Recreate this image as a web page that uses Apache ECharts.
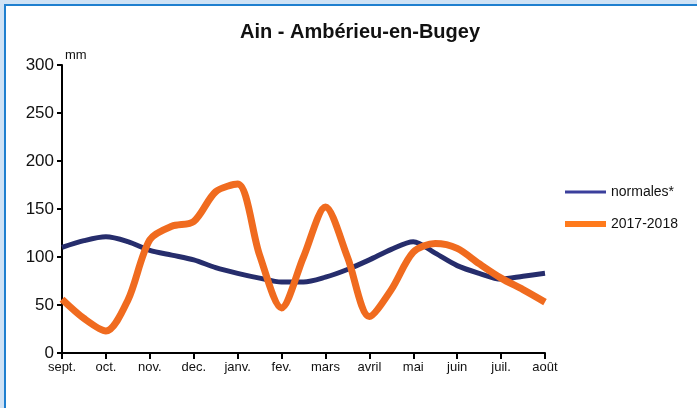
<!DOCTYPE html>
<html>
<head>
<meta charset="utf-8">
<script src="https://cdn.jsdelivr.net/npm/echarts@6/dist/echarts.min.js"></script>
<style>
  html, body { margin: 0; padding: 0; background: #cfe2f5; }
  .frame {
    position: absolute; left: 4px; top: 4px; width: 700px; height: 410px;
    background: #fff; border-left: 2px solid #1f7fcf; border-top: 2px solid #1f7fcf;
  }
  #chart { position: absolute; left: -6px; top: -6px; width: 697px; height: 408px; }
</style>
</head>
<body>
<div class="frame"><div id="chart"></div></div>
<script>
// mois (axe x) et valeurs lues tous les demi-mois
const months = ['sept.', 'oct.', 'nov.', 'dec.', 'janv.', 'fev.', 'mars', 'avril', 'mai', 'juin', 'juil.', 'août']
const yTicks = [0, 50, 100, 150, 200, 250, 300]
const normales = [110, 117, 121, 116, 107, 102, 97, 89, 83, 78, 74, 74, 79, 87, 97, 108, 116, 104, 91, 83, 77, 80, 83]
const annee = [56, 36, 23, 55, 118, 132, 137, 168, 176, 102, 47, 100, 152, 100, 38, 66, 105, 114, 109, 93, 78, 66, 53]

const toPairs = arr => arr.map((v, i) => [i / 2, v])

const legendText = { fontFamily: 'Liberation Sans', fontSize: 14, color: '#111' }

const chart = echarts.init(document.getElementById('chart'))
const option = {
  animation: false,
  title: {
    text: 'Ain - Ambérieu-en-Bugey',
    left: 355,
    textAlign: 'center',
    top: 17,
    textStyle: { fontFamily: 'Liberation Sans', fontSize: 20, fontWeight: 'bold', color: '#111' }
  },
  legend: [
    {
      left: 560, top: 180, itemWidth: 41, itemHeight: 3, itemGap: 14, icon: 'rect',
      textStyle: legendText,
      data: [{ name: 'normales*', itemStyle: { color: '#3b3f9c' } }]
    },
    {
      left: 560, top: 212, itemWidth: 41, itemHeight: 6, itemGap: 14, icon: 'rect',
      textStyle: legendText,
      data: [{ name: '2017-2018', itemStyle: { color: '#ff7a1c' } }]
    }
  ],
  grid: { left: 62, right: 152, top: 65, bottom: 55 },
  xAxis: {
    type: 'value',
    min: 0,
    max: months.length - 1,
    interval: 1,
    axisLine: { lineStyle: { color: '#000', width: 2 } },
    axisTick: { length: 6, lineStyle: { color: '#000', width: 2 } },
    axisLabel: {
      margin: 8,
      fontFamily: 'Liberation Sans',
      fontSize: 13,
      color: '#111',
      formatter: v => months[v]
    },
    splitLine: { show: false }
  },
  yAxis: {
    type: 'value',
    min: yTicks[0],
    max: yTicks[yTicks.length - 1],
    interval: 50,
    name: 'mm',
    nameGap: 3,
    nameTextStyle: { fontFamily: 'Liberation Sans', fontSize: 13, color: '#111', align: 'left', padding: [0, 0, 0, 3] },
    axisLine: { show: true, lineStyle: { color: '#000', width: 2 } },
    axisTick: { show: true, length: 5, lineStyle: { color: '#000', width: 2 } },
    axisLabel: { margin: 8, fontFamily: 'Liberation Sans', fontSize: 17, color: '#111' },
    splitLine: { show: false }
  },
  series: [
    {
      name: 'normales*',
      type: 'line',
      smooth: 0.3,
      symbol: 'none',
      data: toPairs(normales),
      lineStyle: { color: '#262d6c', width: 5 },
      itemStyle: { color: '#262d6c' }
    },
    {
      name: '2017-2018',
      type: 'line',
      smooth: 0.3,
      symbol: 'none',
      data: toPairs(annee),
      lineStyle: { color: '#f06b1f', width: 7 },
      itemStyle: { color: '#f06b1f' }
    }
  ]
}
chart.setOption(option)
</script>
</body>
</html>
